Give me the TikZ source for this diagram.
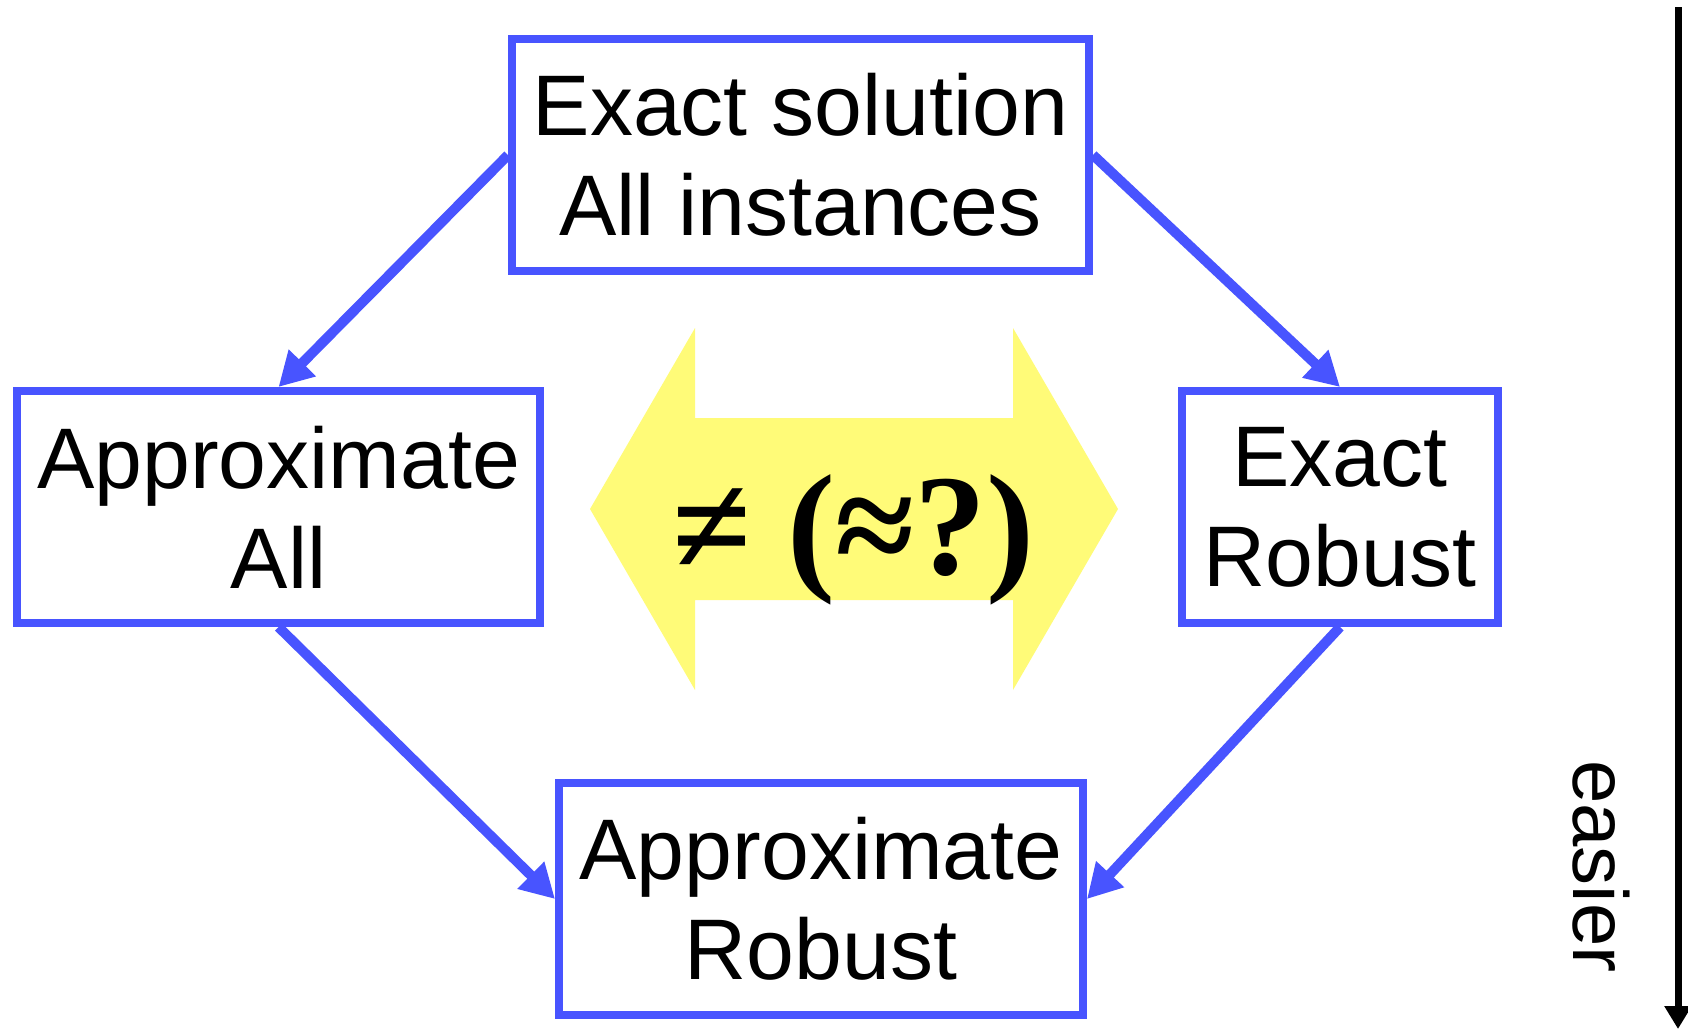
\documentclass[tikz,border=0pt]{standalone}
\usepackage{fontspec}
\setmainfont{Liberation Sans}
\newfontfamily\relfont{Liberation Serif}
\usetikzlibrary{arrows.meta}
\definecolor{boxblue}{RGB}{72,84,255}
\definecolor{arrowyellow}{RGB}{255,251,120}
\begin{document}
\begin{tikzpicture}[x=1pt,y=-1pt,
  box/.style={draw=boxblue, line width=8pt, rectangle, align=center, inner sep=0pt,
    minimum height=232pt, font=\fontsize{86}{100}\selectfont},
  conn/.style={draw=boxblue, line width=10pt, -{Triangle[length=34pt,width=36pt]}},
  axis/.style={draw=black, line width=7pt, -{Triangle[length=23pt,width=26pt]}},
]
\useasboundingbox (0,0) rectangle (1688,1029);
% yellow double arrow
\fill[arrowyellow] (590,509) -- (695,328) -- (695,418) -- (1013,418) -- (1013,328)
  -- (1118,509) -- (1013,690) -- (1013,600) -- (695,600) -- (695,690) -- cycle;
\node[anchor=base, inner sep=0pt, font=\relfont\bfseries\fontsize{144}{150}\selectfont] (rel) at (853,574) {≠ (≈?)};
% boxes
\node[box, minimum width=577pt] (top) at (800.5,155) {Exact solution\\All instances};
\node[box, minimum width=523pt] (left) at (278.5,507) {Approximate\\All};
\node[box, minimum width=316pt] (right) at (1340,507) {Exact\\Robust};
\node[box, minimum width=524pt] (bottom) at (821,899) {Approximate\\Robust};
% connectors
\draw[conn] (top.west) -- (left.north);
\draw[conn] (top.east) -- (right.north);
\draw[conn] (left.south) -- (bottom.west);
\draw[conn] (right.south) -- (bottom.east);
% easier axis
\coordinate (etop) at (1678,7);
\coordinate (ebot) at (1678,1029);
\draw[axis] (etop) -- (ebot);
\node[rotate=-90, anchor=base west, inner sep=0pt, font=\fontsize{78}{90}\selectfont] (easier) at (1573,760) {easier};
\end{tikzpicture}
\end{document}
